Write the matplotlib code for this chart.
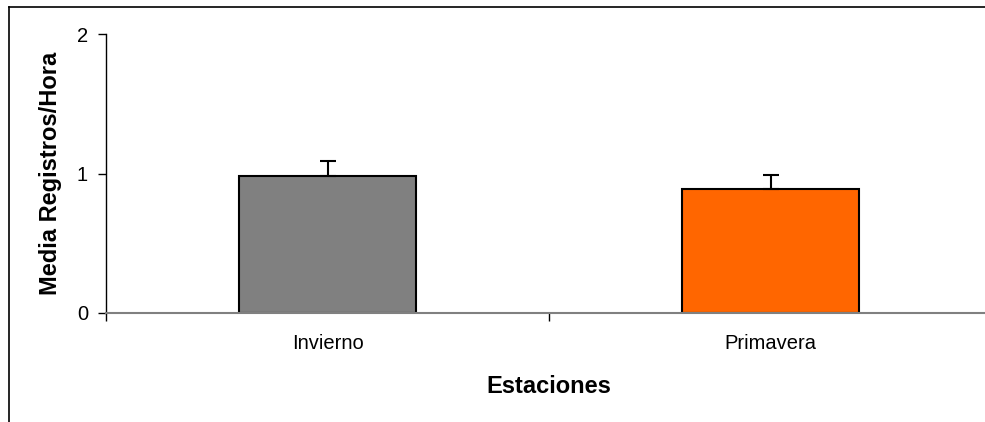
import matplotlib
matplotlib.use("Agg")
import matplotlib.pyplot as plt
from matplotlib.lines import Line2D

categories = ["Invierno", "Primavera"]
means = [0.98, 0.89]
errors = [0.11, 0.10]
colors = ["#808080", "#FF6600"]
yticks = [0, 1, 2]

plt.rcParams['font.family'] = ['Liberation Sans', 'DejaVu Sans']

W, H = 985, 422
fig = plt.figure(figsize=(W/100, H/100), dpi=100)
ax = fig.add_axes([106/W, (H-313)/H, (992-106)/W, (313-34)/H])

x = list(range(len(categories)))
ax.bar(x, means, width=0.40, color=colors, edgecolor="black", linewidth=1.5, zorder=2)
ax.errorbar(x, means, yerr=[[0]*len(errors), errors], fmt="none", ecolor="black",
            elinewidth=1.5, capsize=5.8, capthick=1.5, zorder=3)

ax.set_xlim(-0.5, len(categories)-0.5)
ax.set_ylim(0, 2)
ax.set_yticks(yticks)
ax.set_yticklabels([str(t) for t in yticks], fontsize=14.5)
ax.set_xticks([-0.5, 0.5, 1.5])
ax.set_xticklabels([])
ax.set_xticks(x, minor=True)
ax.set_xticklabels(categories, minor=True, fontsize=14.5)
ax.tick_params(axis='x', which='minor', length=0, pad=15)
ax.tick_params(axis='x', which='major', length=6, width=1, direction='out', color='black')
ax.tick_params(axis='y', length=6, width=1, direction='out', pad=7)

for s in ['top', 'right']:
    ax.spines[s].set_visible(False)
ax.spines['bottom'].set_color('#808080')
ax.spines['bottom'].set_linewidth(1.5)
ax.spines['left'].set_color('black')
ax.spines['left'].set_linewidth(1)

ax.set_xlabel("Estaciones", fontsize=17, fontweight='bold', labelpad=16)
ax.set_ylabel("Media Registros/Hora", fontsize=17, fontweight='bold', labelpad=11)

# outer frame (chart area border)
fx = 9.3/W
fy = (H-7.3)/H
fig.add_artist(Line2D([fx, fx], [-0.05, fy], transform=fig.transFigure, color='black', linewidth=1.2))
fig.add_artist(Line2D([fx, 1.05], [fy, fy], transform=fig.transFigure, color='black', linewidth=1.2))

fig.savefig("out.png", dpi=100)
